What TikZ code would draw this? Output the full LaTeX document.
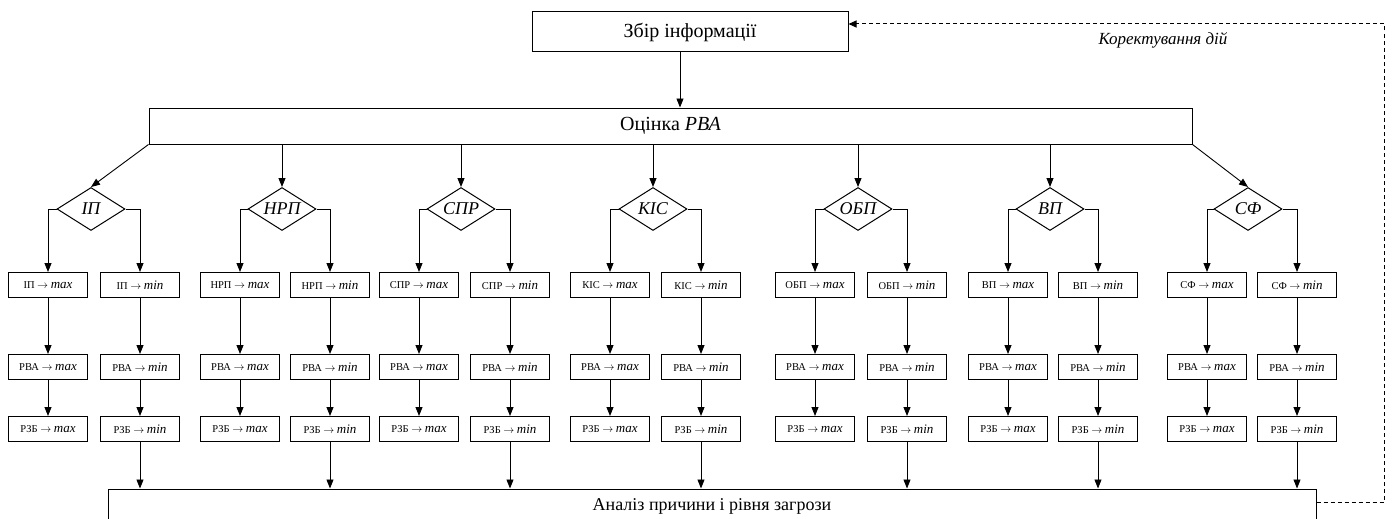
\documentclass[tikz,border=0pt]{standalone}
\usepackage{fontspec}
\setmainfont{Liberation Serif}
\usetikzlibrary{shapes.geometric,arrows.meta}
\newcommand\ToMax[1]{#1 $\rightarrow$ {\fontsize{13}{14}\selectfont\itshape max}}
\newcommand\ToMin[1]{#1 $\rightarrow$ {\fontsize{13}{14}\selectfont\itshape min}}
\begin{document}
\begin{tikzpicture}[x=1pt,y=-1pt,
 box/.style={draw,line width=1pt,minimum width=79pt,minimum height=25pt,inner sep=0pt,font=\fontsize{10.5}{12}\selectfont},
 dia/.style={draw,line width=1pt,shape=diamond,aspect=1.58,minimum width=68pt,minimum height=43pt,inner sep=0pt},
 big/.style={draw,line width=1pt,inner sep=0pt,font=\fontsize{20}{24}\selectfont},
 arr/.style={line width=0.9pt,-{Triangle[length=9pt,width=7pt]}},
 fb/.style={line width=1pt,dash pattern=on 4pt off 3pt,-{Triangle[length=8pt,width=7pt]}},
 dlab/.style={font=\fontsize{18}{20}\selectfont\itshape,inner sep=0pt}
]
\clip (0,0) rectangle (1392,519);
\node[big,minimum width=316pt,minimum height=40pt] (zbir) at (690,32) {Збір інформації};
\node[big,minimum width=1043pt,minimum height=36pt] (ocinka) at (670.5,126) {Оцінка \textit{РВА}};
\node[big,font=\fontsize{18}{20}\selectfont,minimum width=1208pt,minimum height=34pt] (analiz) at (712,506) {Аналіз причини і рівня загрози};
\node[font=\fontsize{17}{20}\selectfont\itshape] (kor) at (1163,40) {Коректування дій};

\draw[arr] ([xshift=-10pt]zbir.south) -- ([xshift=-10pt]zbir.south |- ocinka.north);

\foreach \i/\dx/\lab/\lx/\rx in {1/91/ІП/48/140, 2/282/НРП/240/330, 3/461/СПР/419/510, 4/653/КІС/610/701, 5/858/ОБП/815/907, 6/1050/ВП/1008/1098, 7/1248/СФ/1207/1297}{
 \node[dia,label={[dlab]center:{\lab}}] (d\i) at (\dx,209) {};
 \node[box] (a\i) at (\lx,285) {\ToMax{\lab}};
 \node[box] (b\i) at (\rx,285) {\ToMin{\lab}};
 \node[box] (c\i) at (\lx,367) {\ToMax{РВА}};
 \node[box] (e\i) at (\rx,367) {\ToMin{РВА}};
 \node[box] (f\i) at (\lx,429) {\ToMax{РЗБ}};
 \node[box] (g\i) at (\rx,429) {\ToMin{РЗБ}};
 \draw[arr] (d\i.west) -| (a\i.north);
 \draw[arr] (d\i.east) -| (b\i.north);
 \draw[arr] (a\i) -- (c\i);
 \draw[arr] (b\i) -- (e\i);
 \draw[arr] (c\i) -- (f\i);
 \draw[arr] (e\i) -- (g\i);
 \draw[arr] (g\i) -- (g\i |- analiz.north);
}

\draw[arr] (ocinka.south west) -- (d1.north);
\draw[arr] (ocinka.south east) -- (d7.north);
\foreach \i in {2,...,6} \draw[arr] (d\i.north |- ocinka.south) -- (d\i.north);

\coordinate (fbb) at (1384,502);
\coordinate (fbt) at (1384,24);
\draw[fb] (analiz.east |- fbb) -- (fbb) -- (fbt) -- (zbir.east |- fbt);
\end{tikzpicture}
\end{document}
